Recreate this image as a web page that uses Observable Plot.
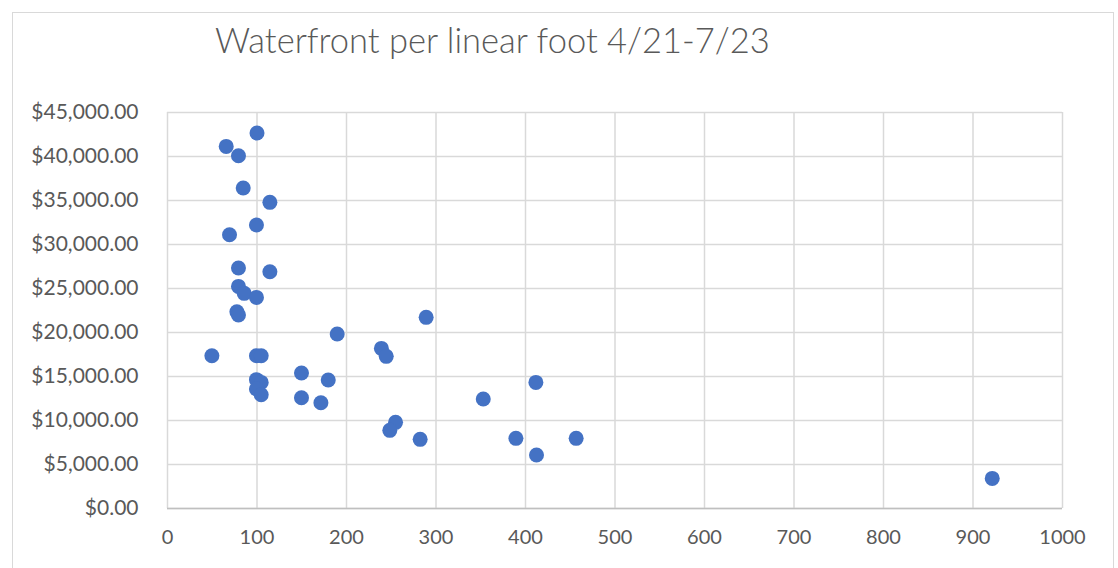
<!DOCTYPE html>
<html>
<head>
<meta charset="utf-8">
<script src="https://cdn.jsdelivr.net/npm/d3@7"></script>
<script src="https://cdn.jsdelivr.net/npm/@observablehq/plot@0.6"></script>
<style>
  html, body { margin: 0; padding: 0; background: #fff; }
  #wrap { position: relative; width: 1118px; height: 568px; overflow: hidden; }
  #frame { position: absolute; left: 12px; top: 12px; width: 1102px; height: 570px; border: 1px solid #d9d9d9; box-sizing: border-box; }
  #title { position: relative; height: 92px; box-sizing: border-box; padding-top: 19px; padding-left: 215px;
           font-family: Lato, sans-serif; font-weight: 300; font-size: 34.5px; color: #595959; white-space: nowrap; }
  #chart { position: relative; }
  svg { font-family: Lato, sans-serif; }
</style>
</head>
<body>
<div id="wrap">
  <div id="frame"></div>
  <div id="title">Waterfront per linear foot 4/21-7/23</div>
  <div id="chart"></div>
</div>
<script>
const linearFeet = [100, 65.6, 79.3, 84.6, 114.4, 99.4, 69.3, 79.3, 114.4, 79.3, 85.7, 99.4,
  77.5, 79.3, 289, 189.6, 49.6, 99.4, 104.7, 239, 244.4, 149.7, 99.4, 104.7, 179.6, 99.4,
  104.7, 149.7, 171.4, 254.8, 248.4, 282.3, 352.8, 411.6, 389.3, 412.3, 456.6, 921.5];
const pricePerFoot = [42670, 41150, 40090, 36420, 34790, 32220, 31110, 27330, 26910, 25240, 24450, 23990,
  22360, 21990, 21720, 19830, 17360, 17360, 17360, 18190, 17290, 15400, 14640, 14330, 14600, 13580,
  12930, 12590, 12020, 9790, 8880, 7860, 12440, 14330, 7970, 6080, 7970, 3420];
const xTicks = [0, 100, 200, 300, 400, 500, 600, 700, 800, 900, 1000];
const yTicks = [0, 5000, 10000, 15000, 20000, 25000, 30000, 35000, 40000, 45000];

const data = linearFeet.map((x, i) => ({x, y: pricePerFoot[i]}));
const money = d3.format("$,.2f");
const plain = d3.format("d");

const chart = Plot.plot({
  width: 1118,
  height: 476,
  marginLeft: 167,
  marginRight: 56,
  marginTop: 20,
  marginBottom: 60,
  style: {fontSize: "20px", color: "#595959", background: "transparent", overflow: "visible"},
  x: {domain: [0, 1000], ticks: xTicks, label: null, tickSize: 0, tickPadding: 21, tickFormat: plain},
  y: {domain: [0, 45000], ticks: yTicks, label: null, tickSize: 0, tickPadding: 29, tickFormat: money},
  marks: [
    Plot.gridX(xTicks, {stroke: "#d9d9d9", strokeOpacity: 1, strokeWidth: 1.5}),
    Plot.gridY(yTicks, {stroke: "#d9d9d9", strokeOpacity: 1, strokeWidth: 1.5}),
    Plot.ruleY([0], {stroke: "#bfbfbf", strokeWidth: 1.5}),
    Plot.axisX({ticks: xTicks, tickSize: 0, tickPadding: 21, tickFormat: plain, fill: "#595959"}),
    Plot.axisY({ticks: yTicks, tickSize: 0, tickPadding: 29, tickFormat: money, fill: "#595959", fontSize: 21}),
    Plot.dot(data, {x: "x", y: "y", r: 7.5, fill: "#4472C4", stroke: "none"})
  ]
});
document.getElementById("chart").appendChild(chart);
</script>
</body>
</html>
